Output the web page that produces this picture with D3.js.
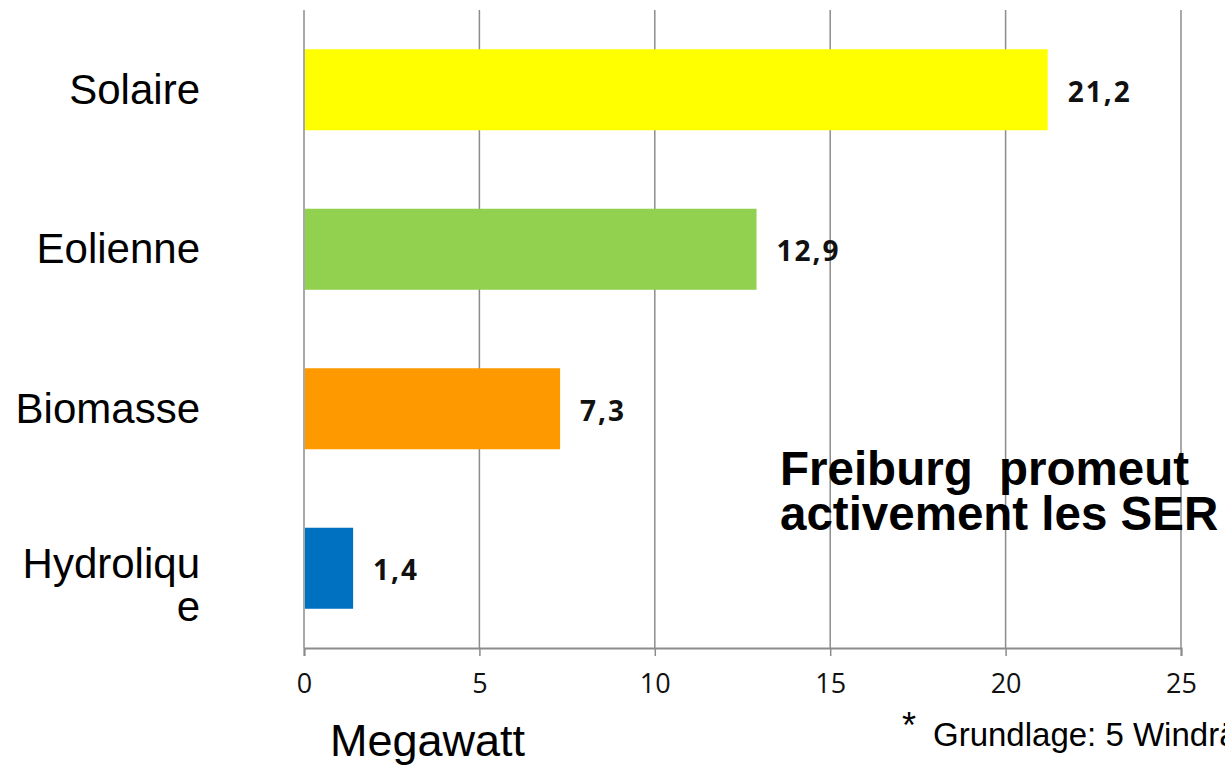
<!DOCTYPE html>
<html>
<head>
<meta charset="utf-8">
<script src="https://cdn.jsdelivr.net/npm/d3@7"></script>
<style>
  html, body { margin: 0; padding: 0; background: #ffffff; overflow: hidden; }
  svg { display: block; }
</style>
</head>
<body>
<svg id="chart" width="1225" height="767"></svg>
<script>
// Installed renewable capacity in Freiburg, in megawatts
const categories = ["Solaire", "Eolienne", "Biomasse", "Hydrolique"];
const categoryLines = [["Solaire"], ["Eolienne"], ["Biomasse"], ["Hydroliqu", "e"]];
const values = [21.2, 12.9, 7.3, 1.4];
const valueLabels = ["21,2", "12,9", "7,3", "1,4"];
const barColors = ["#FFFF00", "#92D050", "#FF9900", "#0070C0"];
const tickValues = [0, 5, 10, 15, 20, 25];
const axisTitle = "Megawatt";
const headline = ["Freiburg  promeut", "activement les SER"];
const footnote = "Grundlage: 5 Windräder";

const svg = d3.select("#chart");

const x = d3.scaleLinear().domain([0, 25]).range([304, 1181]);
const y = d3.scaleBand()
  .domain(categories)
  .range([10, 648])
  .paddingInner(0.492)
  .paddingOuter(0.246);

const gridColor = "#8c8c8c";

// vertical gridlines
svg.append("g")
  .selectAll("line")
  .data(tickValues)
  .join("line")
  .attr("x1", d => x(d)).attr("x2", d => x(d))
  .attr("y1", 10).attr("y2", 648)
  .attr("stroke", gridColor)
  .attr("stroke-width", 1.5);

// bars
svg.append("g")
  .selectAll("rect")
  .data(categories)
  .join("rect")
  .attr("x", x(0) + 1)
  .attr("y", d => y(d))
  .attr("width", (d, i) => x(values[i]) - x(0) - 1)
  .attr("height", y.bandwidth())
  .attr("fill", (d, i) => barColors[i]);

// bottom axis
const axis = d3.axisBottom(x)
  .tickValues(tickValues)
  .tickSize(8)
  .tickPadding(18)
  .tickFormat(d3.format("d"));

const gx = svg.append("g")
  .attr("transform", "translate(0,648)")
  .call(axis);
gx.select(".domain").attr("stroke", gridColor).attr("stroke-width", 2);
gx.selectAll(".tick line").attr("stroke", gridColor).attr("stroke-width", 1.5);
gx.selectAll(".tick text")
  .attr("font-family", "Open Sans, DejaVu Sans, sans-serif")
  .attr("font-size", 27)
  .attr("fill", "#111");

// category labels
const cat = svg.append("g")
  .selectAll("text")
  .data(categories)
  .join("text")
  .attr("x", 200)
  .attr("y", (d, i) => y(d) + y.bandwidth() / 2 + (categoryLines[i].length > 1 ? 10 : 14))
  .attr("text-anchor", "end")
  .attr("font-family", "Liberation Sans, Arial, sans-serif")
  .attr("font-size", 42)
  .attr("fill", "#000");
cat.selectAll("tspan")
  .data((d, i) => categoryLines[i])
  .join("tspan")
  .attr("x", 200)
  .attr("dy", (d, j) => j === 0 ? 0 : 43)
  .text(d => d);

// value labels
svg.append("g")
  .selectAll("text")
  .data(categories)
  .join("text")
  .attr("x", (d, i) => x(values[i]) + 20)
  .attr("y", d => y(d) + y.bandwidth() / 2 + 12)
  .attr("font-family", "Open Sans, DejaVu Sans, sans-serif")
  .attr("font-weight", "bold")
  .attr("font-size", 28)
  .attr("letter-spacing", 2)
  .attr("fill", "#111")
  .text((d, i) => valueLabels[i]);

// axis title
svg.append("text")
  .attr("x", 330)
  .attr("y", 756)
  .attr("font-family", "Liberation Sans, Arial, sans-serif")
  .attr("font-size", 45)
  .attr("fill", "#000")
  .text(axisTitle);

// headline
svg.append("text")
  .attr("font-family", "Liberation Sans, Arial, sans-serif")
  .attr("font-weight", "bold")
  .attr("font-size", 47.5)
  .attr("fill", "#000")
  .selectAll("tspan")
  .data(headline)
  .join("tspan")
  .attr("x", 780)
  .attr("y", (d, i) => 485 + i * 45)
  .attr("xml:space", "preserve")
  .style("white-space", "pre")
  .text(d => d);

// footnote
svg.append("text")
  .attr("x", 902)
  .attr("y", 738)
  .attr("font-family", "Liberation Sans, Arial, sans-serif")
  .attr("font-size", 36)
  .attr("fill", "#000")
  .text("*");
svg.append("text")
  .attr("x", 933)
  .attr("y", 746)
  .attr("font-family", "Liberation Sans, Arial, sans-serif")
  .attr("font-size", 33)
  .attr("fill", "#000")
  .text(footnote);
</script>
</body>
</html>
